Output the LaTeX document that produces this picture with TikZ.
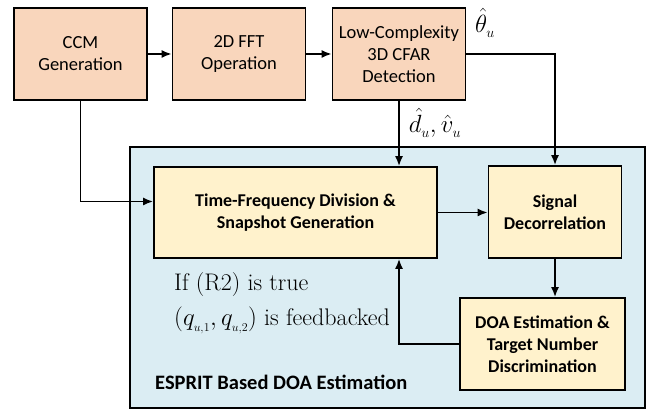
\documentclass[tikz,border=0pt]{standalone}
\usepackage{fontspec}
\newfontfamily\carlito{Carlito}
\usetikzlibrary{arrows.meta}

\definecolor{ccmpeach}{RGB}{249,214,188}
\definecolor{docyellow}{RGB}{255,242,204}
\definecolor{espritblue}{RGB}{219,237,243}

% small, low index
\newcommand{\lowidx}[1]{_{\raisebox{-2pt}{$\scriptscriptstyle #1$}}}

\tikzset{
  topblock/.style={draw, line width=1.8pt, fill=ccmpeach, inner sep=0pt,
    minimum width=133pt, minimum height=92pt, align=center,
    font=\carlito\fontsize{18.5}{22}\selectfont},
  docblock/.style={draw, line width=1.8pt, fill=docyellow, inner sep=0pt,
    minimum width=133pt, minimum height=92pt, align=center,
    font=\carlito\bfseries\fontsize{18}{22}\selectfont},
  flow/.style={line width=1.6pt, -{Latex[length=10pt,width=8pt]}},
  mathlabel/.style={inner sep=1pt, font=\fontsize{27}{30}\selectfont},
  note/.style={anchor=west, inner sep=0pt, font=\fontsize{24}{28}\selectfont},
}

\begin{document}
\begin{tikzpicture}[x=1pt,y=1pt]
\useasboundingbox (0,0) rectangle (655,411);

% ESPRIT part
\draw[line width=2pt, fill=espritblue] (130,3) rectangle (645,264);

\node[topblock] (ccm) at (80.5,357) {CCM\\Generation};
\node[topblock] (fft) at (239,357) {2D FFT\\Operation};
\node[topblock] (cfar) at (399,357) {Low-Complexity\\3D CFAR\\Detection};

\node[docblock, minimum width=283pt, minimum height=91pt] (tfd) at (295.5,198.5)
  {Time-Frequency Division \&\\Snapshot Generation};
\node[docblock] (sig) at (555,199) {Signal\\Decorrelation};
\node[docblock, minimum width=165pt] (doa) at (542.5,67)
  {DOA Estimation \&\\Target Number\\Discrimination};

\node[mathlabel] (theta) at (485,388) {$\hat{\theta}\lowidx{u}$};
\node[mathlabel] (dv) at (435,288) {$\hat{d}\lowidx{u},\hat{v}\lowidx{u}$};
\node[note] (cond) at (174,126) {If (R2) is true};
\node[note] (fb) at (174,91) {$(q\lowidx{u,1},q\lowidx{u,2})$ is feedbacked};
\node[anchor=west, inner sep=0pt, font=\carlito\bfseries\fontsize{20.5}{24}\selectfont]
  (title) at (155,29) {ESPRIT Based DOA Estimation};

\draw[flow] (ccm) -- (fft);
\draw[flow] (fft) -- (cfar);
\draw[flow] (cfar.east) -| (sig.north);
\draw[flow] (cfar.south) -- (cfar.south |- tfd.north);
\draw[flow] (ccm.south) |- ([yshift=11pt]tfd.west);
\draw[flow] (tfd.east) -- (tfd.east -| sig.west);
\draw[flow] (sig.south) -- (sig.south |- doa.north);
\draw[flow] (doa.west) -| (cfar.south |- tfd.south);
\end{tikzpicture}
\end{document}
